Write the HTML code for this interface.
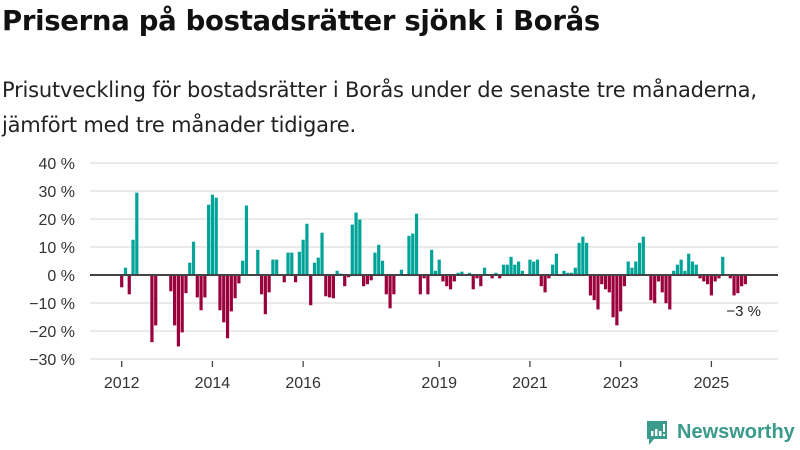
<!DOCTYPE html>
<html><head><meta charset="utf-8">
<style>
body{margin:0;background:#fff;width:800px;height:450px;overflow:hidden;font-family:"Liberation Sans",sans-serif;}
#title{position:absolute;left:2px;top:5px;font-size:27.5px;font-weight:bold;color:#111;margin:0;font-family:"DejaVu Sans",sans-serif;letter-spacing:-0.3px}
#sub{position:absolute;left:2px;top:73px;font-size:21px;line-height:35px;color:#222;width:798px;font-family:"DejaVu Sans",sans-serif;letter-spacing:-0.2px}
svg{position:absolute;left:0;top:0}
#logo{position:absolute;left:645px;top:419px}
#logo-text{position:absolute;left:677px;top:421px;font-size:20px;font-weight:bold;color:#3a9a8c}
</style></head><body>
<h1 id="title">Priserna på bostadsrätter sjönk i Borås</h1>
<div id="sub">Prisutveckling för bostadsrätter i Borås under de senaste tre månaderna,<br>jämfört med tre månader tidigare.</div>
<svg id="chart" width="800" height="450"></svg>
<svg id="logo" width="24" height="28">
<path d="M2 2h20v18h-13l-5 6v-6h-2z" fill="#3a9a8c"/>
<rect x="6" y="12" width="2.5" height="5" fill="#fff"/><rect x="10" y="10" width="2.5" height="7" fill="#fff"/><rect x="14" y="12" width="2.5" height="5" fill="#fff"/><rect x="18" y="5" width="2" height="8" fill="#fff"/><rect x="18" y="15" width="2" height="2" fill="#fff"/>
</svg>
<div id="logo-text">Newsworthy</div>
<script>
// monthly change (%) starting Jan 2012
const values = [
-4.4,2.6,-6.9,12.6,29.4,0,0,0,-24,-18,0,0,
0,-5.8,-18,-25.5,-20.5,-6.5,4.4,11.9,-8,-12.6,-8,25.1,
28.7,27.6,-12.6,-16.9,-22.6,-13,-8.3,-3,5.1,24.8,0,0,
9,-6.9,-14,-6.2,5.5,5.5,0,-2.6,8,8,-2.6,8.3,
12.6,18.3,-10.8,4.4,6.2,15.1,-7.6,-8,-8.3,1.5,0.5,-4,
-0.8,18,22.3,19.8,-4,-3.3,-1.9,8,10.8,5.1,-6.9,-11.9,
-6.9,0,1.9,0,14,14.8,21.9,-6.9,-1.2,-6.9,9,1.5,
5.5,-2.3,-4,-5.1,-2.3,0.8,1.2,0,0.8,-5.1,-1.2,-4,
2.6,0,-1.2,0.8,-1.2,3.7,3.7,6.5,3.7,4.8,1.5,0,
5.5,4.8,5.5,-4,-6.2,-1.2,3.7,7.6,0,1.5,0.8,0.8,
2.6,11.5,13.7,11.5,-7.3,-9,-12.3,-3.3,-5.1,-6.2,-15.1,-18,
-13,-4,4.8,2.6,4.8,11.5,13.7,0,-9,-10.1,-2.3,-6.2,
-10.1,-12.3,1.5,3.7,5.5,1.5,7.6,4.8,3.7,-1.2,-2.3,-3.3,
-7.3,-2.3,-1.2,6.5,0,-1.2,-7.3,-6.5,-4,-3.3
];
const yTicks = [40,30,20,10,0,-10,-20,-30];
const xTickYears = [2012,2014,2016,2019,2021,2023,2025];
const lastLabel = "−3 %";

const NS="http://www.w3.org/2000/svg";
const svg=document.getElementById('chart');
const y0=275, pxPer=2.8, x0=121.7, mPx=3.78, left=90, right=778;
function yScale(v){return y0 - v*pxPer;}
function xScale(m){return x0 + m*mPx;}
function mk(tag,attrs){const e=document.createElementNS(NS,tag);for(const k in attrs)e.setAttribute(k,attrs[k]);svg.appendChild(e);return e;}

yTicks.forEach(t=>{
  const g=mk('line',{x1:left,x2:right,y1:yScale(t),y2:yScale(t),stroke:'#dedede','stroke-width':1.3});
  
  
  const tx=mk('text',{x:75,y:yScale(t)+6,'text-anchor':'end','font-size':16,fill:'#333','font-family':'Liberation Sans, sans-serif'});
  tx.textContent=(t<0?'−'+(-t):t)+' %';
  
  
});
xTickYears.forEach(yr=>{
  const m=(yr-2012)*12;
  const tk=mk('line',{x1:xScale(m),x2:xScale(m),y1:361,y2:367,stroke:'#444','stroke-width':1.3});
  
  
  const tx=mk('text',{x:xScale(m),y:388,'text-anchor':'middle','font-size':16,fill:'#333','font-family':'Liberation Sans, sans-serif'});
  tx.textContent=yr;
  
  
});
values.forEach((v,m)=>{
  if(!v)return;
  const yv=yScale(v);
  const b=mk('rect',{x:xScale(m)-1.6,width:3.2,y:Math.min(yv,y0),height:Math.abs(yv-y0),fill:v>0?'#00a398':'#99003c'});
  
  
});
const zl=mk('line',{x1:left,x2:right,y1:y0,y2:y0,stroke:'#444','stroke-width':2});


const lm=values.length-1;
const lb=mk('text',{x:xScale(lm)-19,y:yScale(values[lm])+32,'font-size':15,fill:'#222','font-family':'Liberation Sans, sans-serif',stroke:'#fff','stroke-width':4,'paint-order':'stroke'});
lb.textContent=lastLabel;


</script>
</body></html>
